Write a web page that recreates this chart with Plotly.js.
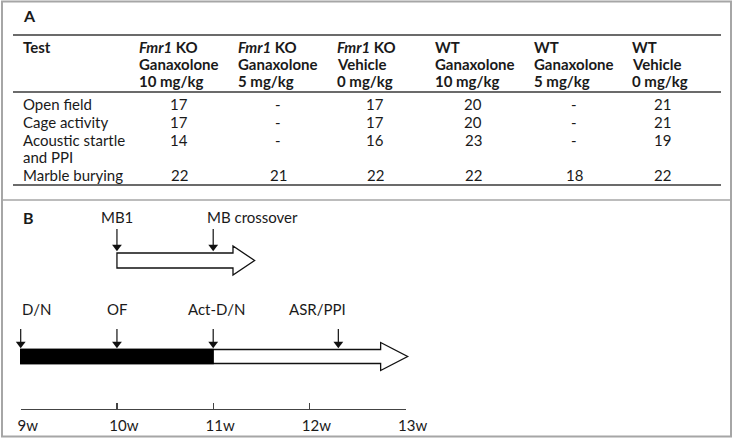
<!DOCTYPE html>
<html><head><meta charset="utf-8">
<script src="https://cdn.plot.ly/plotly-3.0.1.min.js"></script>
<style>html,body{margin:0;padding:0;background:#fff}</style>
</head><body>
<div id="chart" style="width:734px;height:438px"></div>
<script>
// ---------- Panel A data ----------
const columnGroups = ['<i>Fmr1</i> KO', '<i>Fmr1</i> KO', '<i>Fmr1</i> KO', 'WT', 'WT', 'WT'];
const columnDrugs = ['Ganaxolone', 'Ganaxolone', 'Vehicle', 'Ganaxolone', 'Ganaxolone', 'Vehicle'];
const columnDoses = ['10 mg/kg', '5 mg/kg', '0 mg/kg', '10 mg/kg', '5 mg/kg', '0 mg/kg'];
const testNames = [['Open field'], ['Cage activity'], ['Acoustic startle', 'and PPI'], ['Marble burying']];
const openField = [17, '-', 17, 20, '-', 21];
const cageActivity = [17, '-', 17, 20, '-', 21];
const acousticStartlePPI = [14, '-', 16, 23, '-', 19];
const marbleBurying = [22, 21, 22, 22, 18, 22];

// ---------- Panel B data ----------
const weekTicks = [9, 10, 11, 12, 13];
const weekLabels = ['9w', '10w', '11w', '12w', '13w'];
const mbEvents = ['MB1', 'MB crossover'];
const mbWeeks = [10, 11];
const mbArrowWeeks = [10, 11.43];       // start, tip
const mainEvents = ['D/N', 'OF', 'Act-D/N', 'ASR/PPI'];
const mainWeeks = [9, 10, 11, 12.3];
const darkPhaseWeeks = [9, 11];
const mainArrowWeeks = [9, 13.02];      // start, tip

// ---------- layout / style ----------
const W = 734, H = 438;
const FONT = 'Lato, "Open Sans", sans-serif';
const TXT = '#1a1a1a';
const pxPerWeek = 96.25, x9px = 20.7;
const px = v => v / W;
const annotations = [];
const shapes = [];

function txt(text, x, y, opts) {
  annotations.push(Object.assign({
    text: text, x: px(x), y: y, xref: 'paper', yref: 'y', showarrow: false,
    xanchor: 'left', yanchor: 'middle', font: {family: FONT, size: 15, color: TXT}
  }, opts || {}));
}

// frame and divider
shapes.push({type: 'rect', xref: 'paper', yref: 'y', x0: px(2), x1: px(731), y0: 1.5, y1: 436.5,
  line: {color: '#a6a6a6', width: 2}});
shapes.push({type: 'line', xref: 'paper', yref: 'y', x0: px(2), x1: px(731), y0: 200, y1: 200,
  line: {color: '#a6a6a6', width: 1.5}});

// Panel A
txt('<b>A</b>', 21, 15, {font: {family: FONT, size: 16, color: TXT}});
[35, 92, 185].forEach(y => shapes.push({type: 'line', xref: 'paper', yref: 'y',
  x0: px(13), x1: px(721), y0: y, y1: y, line: {color: '#3a3a3a', width: 1.5}}));

const headerLineY = [47, 64, 81];
const colLeft = [137, 236, 335, 433, 532, 630];
const valCenter = [179, 278, 375, 473, 574, 662];
txt('<b>Test</b>', 21, headerLineY[0]);
columnGroups.forEach((g, i) => {
  txt('<b>' + g + '</b>', colLeft[i], headerLineY[0]);
  txt('<b>' + columnDrugs[i] + '</b>', colLeft[i], headerLineY[1]);
  txt('<b>' + columnDoses[i] + '</b>', colLeft[i], headerLineY[2]);
});
const bodyLineY = [104, 122, 140, 157, 175];
const rowStartLine = [0, 1, 2, 4];
const rowValues = [openField, cageActivity, acousticStartlePPI, marbleBurying];
testNames.forEach((lines, r) => {
  lines.forEach((l, k) => txt(l, 21, bodyLineY[rowStartLine[r] + k]));
  rowValues[r].forEach((v, c) => txt(String(v), valCenter[c], bodyLineY[rowStartLine[r]], {xanchor: 'center'}));
});

// Panel B
txt('<b>B</b>', 21, 217, {font: {family: FONT, size: 16, color: TXT}});

const headPx = {mb: 21.6, main: 27};
function hollowArrow(x0, tip, headLen, yTop, yBot, hTop, hBot) {
  const xb = tip - headLen / pxPerWeek, ym = (yTop + yBot) / 2;
  shapes.push({type: 'path', xref: 'x', yref: 'y', layer: 'above',
    path: `M${x0},${yTop} L${xb},${yTop} L${xb},${hTop} L${tip},${ym} L${xb},${hBot} L${xb},${yBot} L${x0},${yBot} Z`,
    fillcolor: '#ffffff', line: {color: '#111', width: 1.3}});
}
hollowArrow(mbArrowWeeks[0], mbArrowWeeks[1], headPx.mb, 253, 268, 246, 275);
hollowArrow(mainArrowWeeks[0], mainArrowWeeks[1], headPx.main, 349.5, 363.5, 342.5, 370.5);
shapes.push({type: 'rect', xref: 'x', yref: 'y', layer: 'above', x0: darkPhaseWeeks[0], x1: darkPhaseWeeks[1],
  y0: 349.5, y1: 363.5, fillcolor: '#000', line: {color: '#000', width: 1.3}});

// event labels
const mbLabelAnchor = ['center', 'left'], mbLabelShift = [0, -8];
mbEvents.forEach((e, i) => annotations.push({text: e, x: mbWeeks[i], y: 217, xref: 'x', yref: 'y',
  showarrow: false, xanchor: mbLabelAnchor[i], xshift: mbLabelShift[i], yanchor: 'middle',
  font: {family: FONT, size: 15, color: TXT}}));
const mainLabelAnchor = ['left', 'center', 'center', 'right'], mainLabelShift = [-1, 1, 4, 10];
mainEvents.forEach((e, i) => annotations.push({text: e, x: mainWeeks[i], y: 309, xref: 'x', yref: 'y',
  showarrow: false, xanchor: mainLabelAnchor[i], xshift: mainLabelShift[i], yanchor: 'middle',
  font: {family: FONT, size: 15, color: TXT}}));

function eventArrows(weeks, yTop, yTip) {
  const xs = [], ys = [];
  weeks.forEach(w => { xs.push(w, w, null); ys.push(yTop, yTip - 6, null); });
  return [
    {type: 'scatter', mode: 'lines', x: xs, y: ys, line: {color: '#111', width: 1.2},
     hoverinfo: 'skip', showlegend: false},
    {type: 'scatter', mode: 'markers', x: weeks, y: weeks.map(() => yTip - 4),
     marker: {symbol: 'triangle-down', size: 8.5, color: '#111'}, hoverinfo: 'skip', showlegend: false}
  ];
}

const traces = [
  ...eventArrows(mbWeeks, 229, 251),
  ...eventArrows(mainWeeks, 329, 348),
  {type: 'scatter', mode: 'markers', x: weekTicks, y: weekTicks.map(() => null), xaxis: 'x2', yaxis: 'y',
   hoverinfo: 'skip', showlegend: false}
];

const xLeft = 9 - x9px / pxPerWeek, xRight = 9 + (W - x9px) / pxPerWeek;
const layout = {
  width: W, height: H, margin: {l: 0, r: 0, t: 0, b: 0},
  paper_bgcolor: '#fff', plot_bgcolor: 'rgba(0,0,0,0)', showlegend: false,
  font: {family: FONT, color: TXT},
  xaxis: {visible: false, range: [xLeft, xRight], domain: [0, 1], fixedrange: true},
  yaxis: {visible: false, range: [H, 0], domain: [0, 1], fixedrange: true},
  xaxis2: {range: [9, 13], domain: [px(x9px), px(x9px + 4 * pxPerWeek)], anchor: 'free', position: 1 - 409 / H,
    showline: true, linecolor: '#444', linewidth: 1.2, ticks: 'inside', ticklen: 6, tickwidth: 1.2, tickcolor: '#444',
    tickvals: weekTicks, ticktext: weekLabels, ticklabelshift: 7, ticklabelstandoff: 3, showgrid: false, zeroline: false,
    tickfont: {family: FONT, size: 15, color: TXT}, fixedrange: true},
  shapes: shapes, annotations: annotations
};
Plotly.newPlot('chart', traces, layout, {displayModeBar: false, staticPlot: true});
</script>
</body></html>
